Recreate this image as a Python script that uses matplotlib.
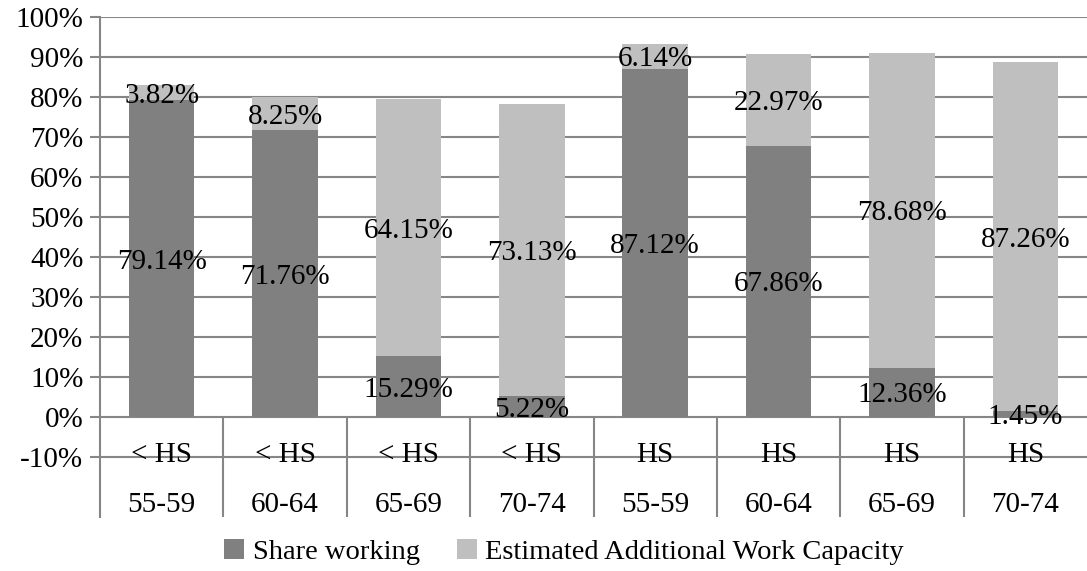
import matplotlib
matplotlib.use("Agg")
import matplotlib.pyplot as plt
from matplotlib.patches import Patch

# Data
education = ["< HS", "< HS", "< HS", "< HS", "HS", "HS", "HS", "HS"]
age_groups = ["55-59", "60-64", "65-69", "70-74", "55-59", "60-64", "65-69", "70-74"]
share_working = [79.14, 71.76, 15.29, 5.22, 87.12, 67.86, 12.36, 1.45]
additional_capacity = [3.82, 8.25, 64.15, 73.13, 6.14, 22.97, 78.68, 87.26]
y_ticks = list(range(-10, 101, 10))

plt.rcParams["font.family"] = ["Liberation Serif", "DejaVu Serif"]
FS = 21
DARK = "#808080"
LIGHT = "#bfbfbf"
GRID = "#868686"

fig = plt.figure(figsize=(10.87, 5.71), dpi=100)
ax = fig.add_axes([100 / 1087, 1 - 517 / 571, 1 - 100 / 1087, 500 / 571])

x = list(range(len(share_working)))
ax.set_xlim(-0.5, len(x) - 0.5)
ax.set_ylim(-25, 100)

# Horizontal gridlines
for t in y_ticks:
    ax.axhline(t, color=GRID, lw=1.5, zorder=1)

bw = 0.53
ax.bar(x, share_working, width=bw, color=DARK, zorder=2, label="Share working")
ax.bar(x, additional_capacity, width=bw, bottom=share_working, color=LIGHT,
       zorder=2, label="Estimated Additional Work Capacity")

# Segment labels (nudged down slightly so the digits sit on the segment centre)
dy = -0.8
for i in x:
    sw = share_working[i]
    ac = additional_capacity[i]
    ax.text(i, sw / 2 + dy, f"{sw:.2f}%", ha="center", va="center", fontsize=FS, zorder=4)
    ax.text(i, sw + ac / 2 + dy, f"{ac:.2f}%", ha="center", va="center", fontsize=FS, zorder=4)

# Multi-level category axis
for i in x:
    ax.text(i, -9.4, education[i], ha="center", va="center", fontsize=FS, zorder=4)
    ax.text(i, -22.0, age_groups[i], ha="center", va="center", fontsize=FS, zorder=4)
for b in range(len(x) - 1):
    ax.plot([b + 0.5, b + 0.5], [0, -25], color=GRID, lw=1.5, zorder=1,
            solid_capstyle="butt")

ax.set_yticks(y_ticks)
ax.set_yticklabels([f"{t}%" for t in y_ticks], fontsize=FS)
ax.tick_params(axis="y", length=7, width=1.5, color=GRID, pad=5)
ax.set_xticks([])
for s in ["top", "right", "bottom"]:
    ax.spines[s].set_visible(False)
ax.spines["left"].set_color(GRID)
ax.spines["left"].set_linewidth(1.5)
ax.spines["left"].set_zorder(1)

handles = [Patch(facecolor=DARK, label="Share working"),
           Patch(facecolor=LIGHT, label="Estimated Additional Work Capacity")]
fig.legend(handles=handles, loc="center", bbox_to_anchor=(0.519, 0.033), ncol=2,
           frameon=False, fontsize=20.5, handlelength=0.7, handleheight=0.7,
           handletextpad=0.3, columnspacing=1.3)

fig.savefig("out.png", dpi=100)
